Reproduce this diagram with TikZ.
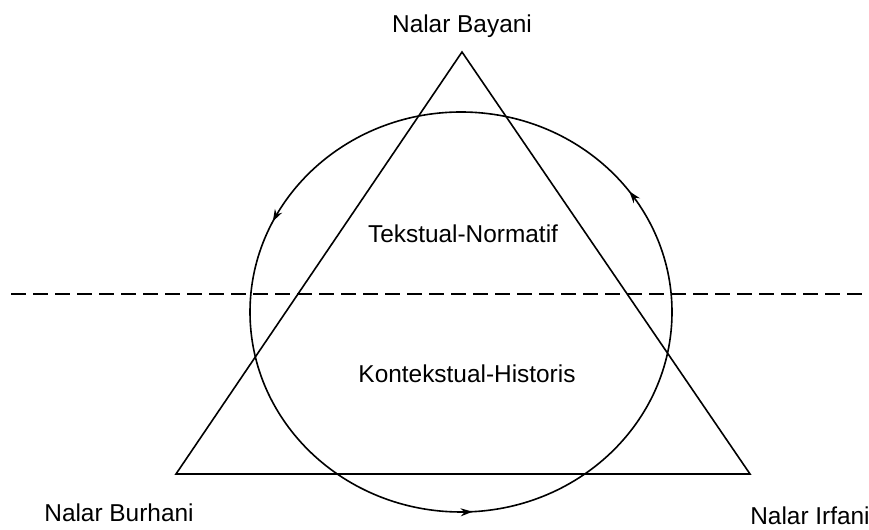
\documentclass[tikz,border=0pt]{standalone}
\usepackage{fontspec}
\setmainfont{Liberation Sans}
\usetikzlibrary{arrows.meta, positioning, decorations.markings}

\begin{document}
\begin{tikzpicture}[x=1bp, y=1bp, >=Stealth,
      edge/.style={line width=1.6bp},
      cyc/.style={line width=1.6bp, postaction={decorate},
                  decoration={markings,
                    mark=at position 0.101 with {\arrow{Stealth[length=12bp, width=8bp]}},
                    mark=at position 0.427 with {\arrow{Stealth[length=12bp, width=8bp]}},
                    mark=at position 0.759 with {\arrow{Stealth[length=12bp, width=8bp]}}}},
      lbl/.style={font=\fontsize{24.5}{28}\selectfont, inner sep=0pt, anchor=base}]

    \useasboundingbox (0,0) rectangle (869,530);

    % ---- Layout ----
    \def\cx{461}     % circle centre x
    \def\cy{218}     % circle centre y
    \def\ly{236}     % dashed line y

    % ---- Triangle corners ----
    \coordinate (bayani)  at (462, 478);
    \coordinate (burhani) at (176, 56);
    \coordinate (irfani)  at (750, 56);
    \draw[edge, line join=miter] (bayani) -- (burhani) -- (irfani) -- cycle;

    % ---- Cycle round the triangle ----
    \coordinate (mid) at (\cx, \cy);
    \draw[cyc] (mid) ellipse [x radius=211, y radius=200];

    % ---- Dashed divider ----
    \coordinate (divL) at (11, \ly);
    \coordinate (divR) at (862, \ly);
    \draw[edge, dash pattern=on 15bp off 7bp] (divL) -- (divR);

    % ---- Labels ----
    \node[lbl] (tBayani)  at (462, 497) {Nalar Bayani};
    \node[lbl] (tBurhani) at (119, 8)   {Nalar Burhani};
    \node[lbl] (tIrfani)  at (810, 5)   {Nalar Irfani};
    \node[lbl] (tTeks)    at (463, 287) {Tekstual-Normatif};
    \node[lbl] (tKonteks) at (467, 147) {Kontekstual-Historis};

\end{tikzpicture}
\end{document}
